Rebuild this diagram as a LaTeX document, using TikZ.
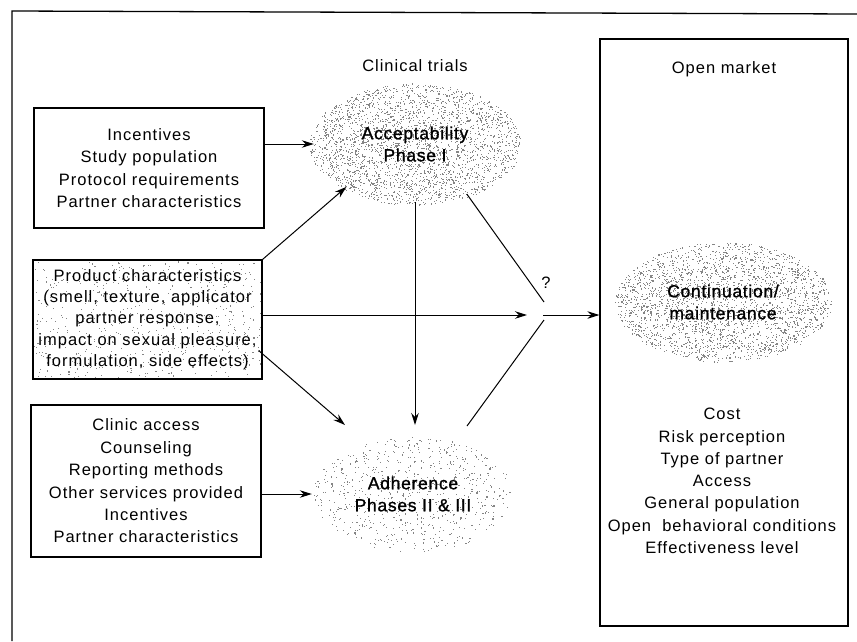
\documentclass[tikz,border=0pt]{standalone}
\usepackage{fontspec}
\setmainfont{Liberation Sans}[LetterSpace=6]
\newfontfamily\blobfont{Liberation Sans}[LetterSpace=4,FakeBold=1.2]
\usetikzlibrary{shapes.geometric,arrows.meta,calc}
\newcommand\stippleEll[6]{%
  \pgfmathsetseed{#6}%
  \foreach \i in {1,...,#5}{%
    \pgfmathsetmacro\rr{1.05*sqrt(rnd)}%
    \pgfmathsetmacro\aa{360*rnd}%
    \fill[dotc] ({#1+#3*\rr*cos(\aa)},{#2+#4*\rr*sin(\aa)}) rectangle ++(1.1,1.1);
  }}
\newcommand\stippleRect[6]{%
  \pgfmathsetseed{#6}%
  \foreach \i in {1,...,#5}{%
    \fill[dotc] ({#1+#3*rnd},{#2+#4*rnd}) rectangle ++(1.1,1.1);
  }}
\begin{document}
\begin{tikzpicture}[x=1pt,y=-1pt,
  dotc/.style={fill=black!48},
  txt/.style={font=\fontsize{16.5}{22.4}\selectfont, align=center, inner sep=0pt},
  txtp/.style={font=\fontsize{16.5}{21.3}\selectfont, align=center, inner sep=0pt},
  btxt/.style={font=\blobfont\fontsize{17.5}{22}\selectfont, align=center, inner sep=0pt},
  boxA/.style={draw, line width=1.2pt, inner sep=0pt},
  blob/.style={ellipse, inner sep=0pt},
  arr/.style={line width=1pt, -{Stealth[length=12pt,width=7.5pt]}},
  ln/.style={line width=1pt}]
\useasboundingbox (0,0) rectangle (857,641);
% outer frame
\draw[line width=1.3pt] (857,14) -- (12,11) -- (12,641);
% stippling
\stippleEll{415}{144}{101}{58}{2600}{11}
\stippleEll{413}{494}{95}{55}{700}{23}
\stippleEll{723}{302}{103}{57}{2500}{37}
\stippleRect{34}{261}{227}{117}{600}{41}
% left boxes
\node[boxA, txt, minimum width=230pt, minimum height=120pt] (box1) at (149,168)
  {Incentives\\Study population\\Protocol requirements\\Partner characteristics};
\node[boxA, txtp, minimum width=229pt, minimum height=119pt] (prod) at (147.5,319.5)
  {Product characteristics\\(smell, texture, applicator\\partner response,\\impact on sexual pleasure,\\formulation, side effects)};
\node[boxA, txt, minimum width=230pt, minimum height=152pt] (clin) at (146,481)
  {Clinic access\\Counseling\\Reporting methods\\Other services provided\\Incentives\\Partner characteristics};
% clinical trials
\node[txt] (ct) at (415,66) {Clinical trials};
\node[blob, btxt, minimum width=202pt, minimum height=116pt] (acc) at (415,144) {Acceptability\\Phase I};
\node[blob, btxt, minimum width=190pt, minimum height=110pt] (adh) at (413,494) {Adherence\\Phases II \& III};
% open market
\node[boxA, minimum width=248pt, minimum height=587pt] (rbox) at (724,332.5) {};
\node[txt] (om) at (724,69) {Open market};
\node[blob, btxt, minimum width=206pt, minimum height=114pt] (cont) at (723,302) {Continuation/\\maintenance};
\node[txt, font=\fontsize{16.5}{22.3}\selectfont] (rlist) at (722,481)
  {Cost\\Risk perception\\Type of partner\\Access\\General population\\Open\ \ behavioral conditions\\Effectiveness level};
% junction
\coordinate (J) at (544,315);
\node[txt] (q) at (546,283) {?};
\coordinate (adhA) at (345,425);
\coordinate (adhB) at (467,426);
% connectors
\draw[arr] (box1.east |- acc.west) -- (acc.west);
\draw[arr] (prod.north east) -- (acc.212.7);
\draw[arr] (prod.east |- J) -- ([xshift=-17pt]J);
\draw[arr] ($(prod.east)+(-4,31)$) -- (adhA);
\draw[arr] (acc.south) -- (acc.south |- adhA);
\draw[ln] (acc.316.6) -- ([yshift=13pt]J);
\draw[ln] (adhB) -- ([yshift=-5pt]J);
\draw[arr] ([xshift=-1pt]J) -- (rbox.west |- J);
\draw[arr] (clin.east |- adh.west) -- ([xshift=-6pt]adh.west);
\end{tikzpicture}
\end{document}
